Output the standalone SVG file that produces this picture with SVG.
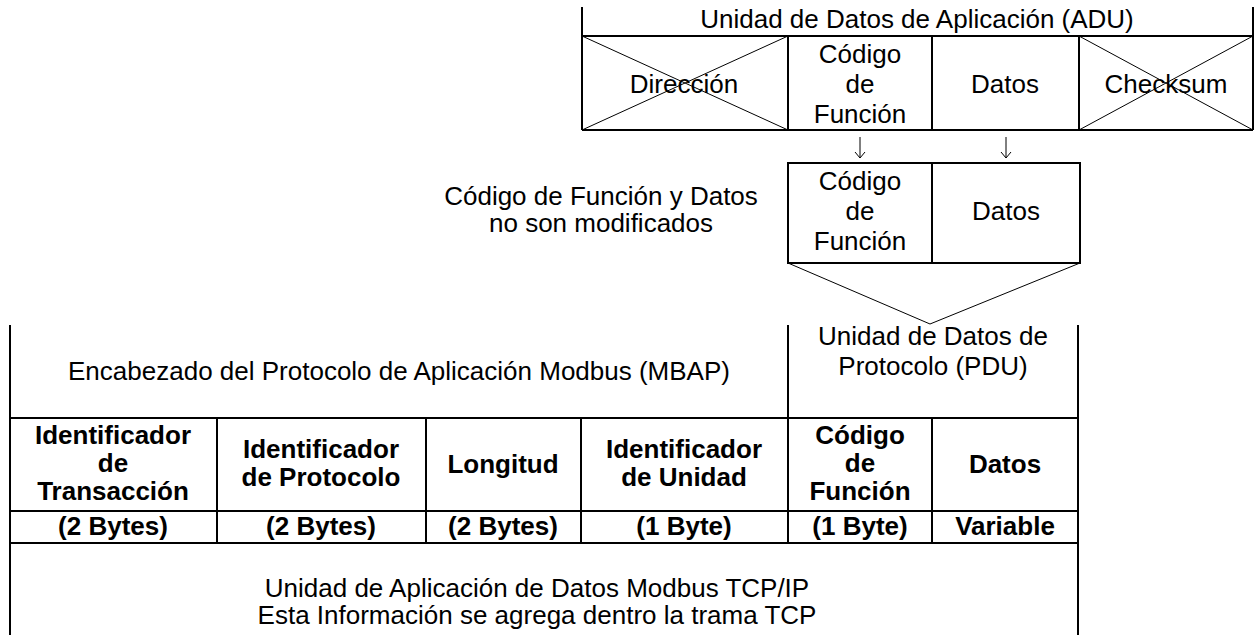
<svg xmlns="http://www.w3.org/2000/svg" width="1257" height="635" viewBox="0 0 1257 635">
<style>
.ln{stroke:#000;stroke-width:2;fill:none}
.thin{stroke:#000;stroke-width:1;fill:none}
text{font-family:"Liberation Sans",Arial,sans-serif;font-size:26px;fill:#000;text-anchor:middle}
.b{font-weight:bold}
</style>
<rect width="1257" height="635" fill="#fff"/>
<g id="adu">
<path class="ln" d="M582 7V130M1253 7V130M582 36H1253M582 130H1253M788 36V130M932 36V130M1079 36V130"/>
<path class="thin" d="M582 36L788 130M788 36L582 130M1079 36L1253 130M1253 36L1079 130"/>
<text x="917" y="28">Unidad de Datos de Aplicación (ADU)</text>
<text x="684" y="93">Dirección</text>
<text x="860" y="63">Código</text>
<text x="860" y="93">de</text>
<text x="860" y="123">Función</text>
<text x="1005" y="93">Datos</text>
<text x="1166" y="93">Checksum</text>
</g>
<g id="pdu-copy">
<rect class="ln" x="788" y="163" width="292" height="100"/>
<path class="ln" d="M932 163V263"/>
<text x="860" y="190">Código</text>
<text x="860" y="220">de</text>
<text x="860" y="250">Función</text>
<text x="1006" y="220">Datos</text>
</g>
<g id="note">
<text x="601" y="205">Código de Función y Datos</text>
<text x="601" y="232">no son modificados</text>
</g>
<g id="connectors">
<path class="thin" d="M860 137V158M855 152L860 158L865 152"/>
<path class="thin" d="M1006 137V158M1001 152L1006 158L1011 152"/>
<path class="thin" d="M788 263L930 324L1080 263"/>
</g>
<g id="mbap-table">
<path class="ln" d="M10 325V635M1078 325V635M788 325V543M10 418H1078M10 511H1078M10 543H1078M217 418V543M426 418V543M581 418V543M932 418V543"/>
<text x="399" y="380">Encabezado del Protocolo de Aplicación Modbus (MBAP)</text>
<text x="933" y="345">Unidad de Datos de</text>
<text x="933" y="375">Protocolo (PDU)</text>
<text class="b" x="113" y="444">Identificador</text>
<text class="b" x="113" y="472">de</text>
<text class="b" x="113" y="500">Transacción</text>
<text class="b" x="321" y="458">Identificador</text>
<text class="b" x="321" y="486">de Protocolo</text>
<text class="b" x="503" y="473">Longitud</text>
<text class="b" x="684" y="458">Identificador</text>
<text class="b" x="684" y="486">de Unidad</text>
<text class="b" x="860" y="444">Código</text>
<text class="b" x="860" y="472">de</text>
<text class="b" x="860" y="500">Función</text>
<text class="b" x="1005" y="473">Datos</text>
<text class="b" x="113" y="535">(2 Bytes)</text>
<text class="b" x="321" y="535">(2 Bytes)</text>
<text class="b" x="503" y="535">(2 Bytes)</text>
<text class="b" x="684" y="535">(1 Byte)</text>
<text class="b" x="860" y="535">(1 Byte)</text>
<text class="b" x="1005" y="535">Variable</text>
<text x="537" y="597">Unidad de Aplicación de Datos Modbus TCP/IP</text>
<text x="537" y="624">Esta Información se agrega dentro la trama TCP</text>
</g>
</svg>
